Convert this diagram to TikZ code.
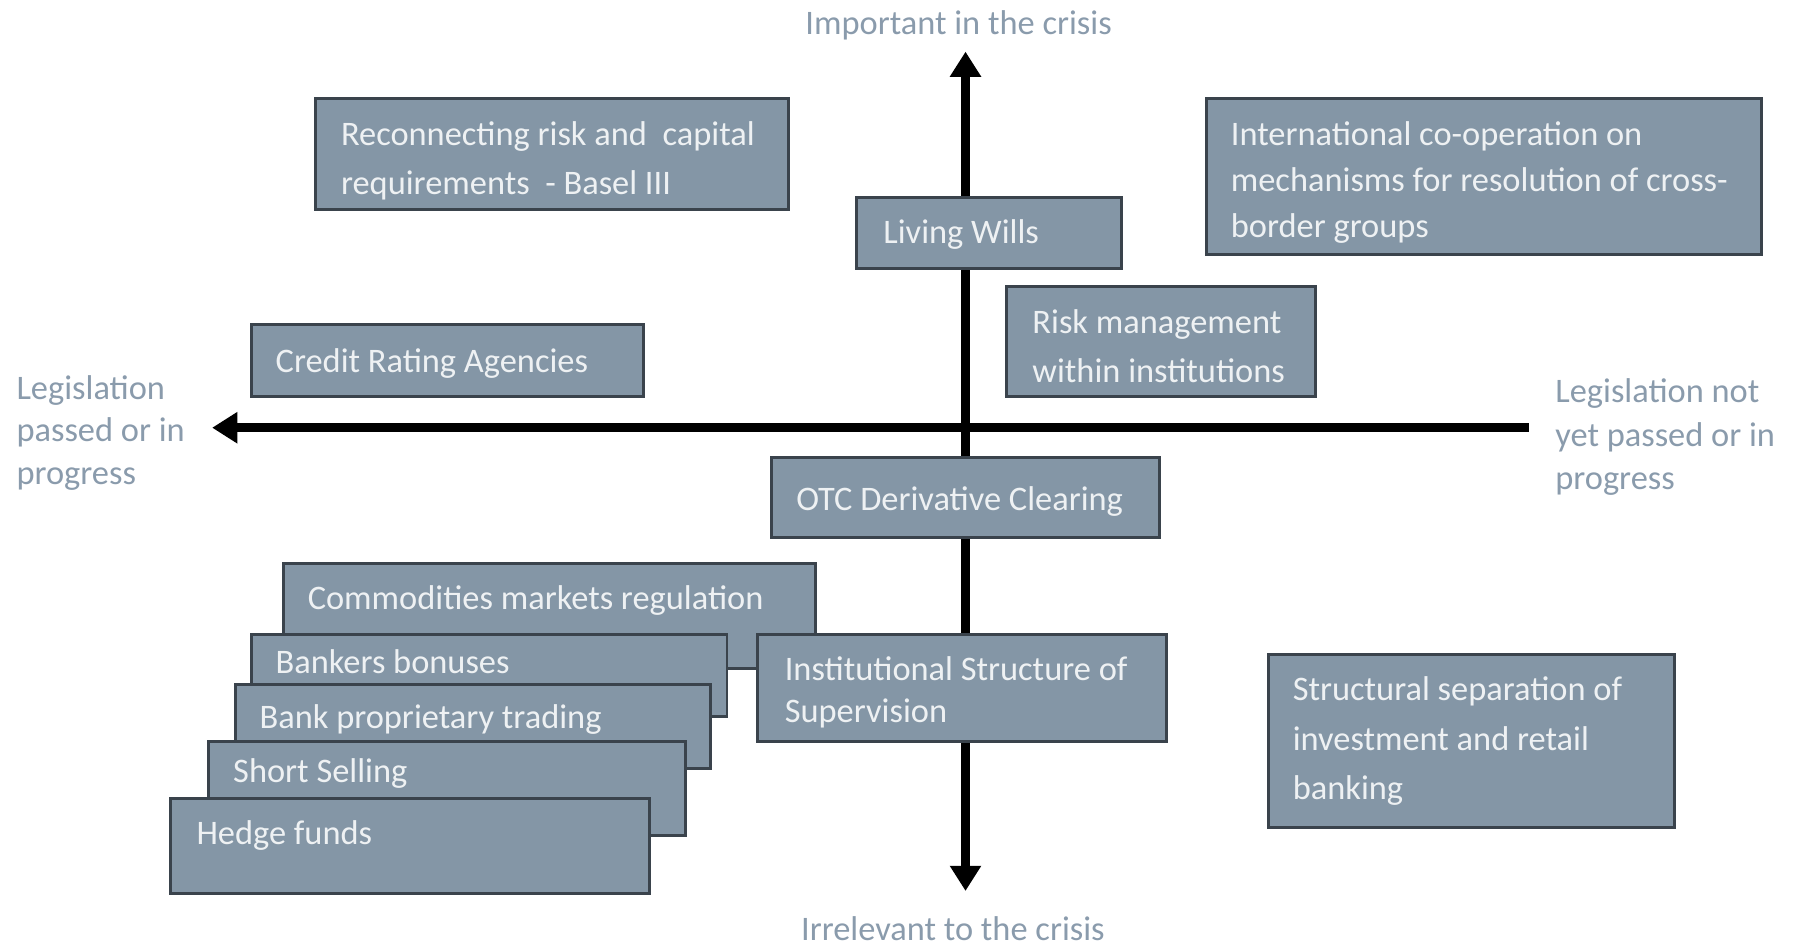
\documentclass[tikz,border=0pt]{standalone}
\usepackage{fontspec}
\setmainfont{Carlito}
\usetikzlibrary{arrows.meta,fit}
\definecolor{boxfill}{HTML}{8496A6}
\definecolor{boxline}{HTML}{3A434C}
\definecolor{boxtext}{HTML}{EEF1F3}
\definecolor{axislabel}{HTML}{8A9BAC}
\begin{document}
\begin{tikzpicture}[x=0.5pt,y=-0.5pt,
  box/.style={draw=boxline, fill=boxfill, line width=1.3pt, inner sep=0pt, rectangle},
  txt/.style={text=boxtext, font=\fontsize{15}{20}\selectfont, align=left, inner sep=0pt, anchor=north west},
  lab/.style={text=axislabel, font=\fontsize{15}{18.5}\selectfont, inner sep=0pt},
  axisline/.style={line width=3.8pt, black},
  >={Triangle[width=13pt,length=11pt]}]
\useasboundingbox (0,0) rectangle (1568,826);

% axes
\coordinate (vt) at (842,45);
\coordinate (vb) at (842,777);
\coordinate (hl) at (185,373);
\coordinate (hr) at (1333,373);
\draw[axisline,<->] (vb) -- (vt);
\draw[axisline,->] (hr) -- (hl);

% axis labels
\node[lab, anchor=base] (ltop) at (836,30) {Important in the crisis};
\node[lab, anchor=base] (lbot) at (831,820) {Irrelevant to the crisis};
\node[lab, anchor=north west, align=left] (lleft) at (14,327) {Legislation\\passed or in\\progress};
\node[lab, anchor=north west, align=left, font=\fontsize{15}{19}\selectfont] (lright) at (1356,330) {Legislation not\\yet passed or in\\progress};

% boxes
\node[box, fit={(275,86) (688,183)}] (rec) {};
\node[txt, font=\fontsize{15}{21}\selectfont] (recT) at (297,106) {Reconnecting risk and~ capital\\requirements~ - Basel III};

\node[box, fit={(1052,86) (1536,222)}] (intl) {};
\node[txt] (intlT) at (1073,106) {International co-operation on\\mechanisms for resolution of cross-\\border groups};

\node[box, fit={(747,172) (978,234)}] (liv) {};
\node[txt] (livT) at (770,191) {Living Wills};

\node[box, fit={(878,250) (1147,346)}] (risk) {};
\node[txt, font=\fontsize{15}{21}\selectfont] (riskT) at (900,270) {Risk management\\within institutions};

\node[box, fit={(219,283) (561,346)}] (cra) {};
\node[txt] (craT) at (240,304) {Credit Rating Agencies};

\node[box, fit={(673,399) (1011,469)}] (otc) {};
\node[txt] (otcT) at (694,424) {OTC Derivative Clearing};

\node[box, fit={(247,491) (711,583)}] (com) {};
\node[txt] (comT) at (268,510) {Commodities markets regulation};

\node[box, fit={(661,553) (1017,647)}] (inst) {};
\node[txt, font=\fontsize{15}{18.5}\selectfont] (instT) at (684,572) {Institutional Structure of\\Supervision};

\node[box, fit={(219,553) (634,625)}] (bon) {};
\node[txt] (bonT) at (240,566) {Bankers bonuses};

\node[box, fit={(205,597) (620,670)}] (prop) {};
\node[txt] (propT) at (226,614) {Bank proprietary trading};

\node[box, fit={(182,647) (598,729)}] (short) {};
\node[txt] (shortT) at (203,661) {Short Selling};

\node[box, fit={(149,696) (566,779)}] (hedge) {};
\node[txt] (hedgeT) at (171,715) {Hedge funds};

\node[box, fit={(1106,571) (1460,722)}] (struct) {};
\node[txt, font=\fontsize{15}{21.5}\selectfont] (structT) at (1127,590) {Structural separation of\\investment and retail\\banking};
\end{tikzpicture}
\end{document}
